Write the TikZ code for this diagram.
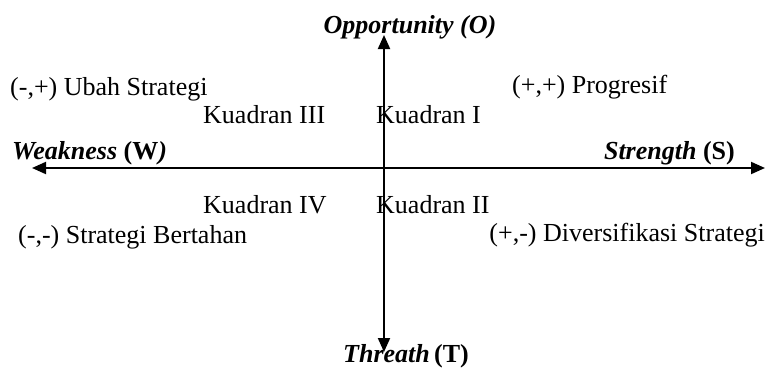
\documentclass[tikz,border=0pt]{standalone}
\usepackage{fontspec}
\setmainfont{Liberation Serif}
\usepackage{tikz}
\usetikzlibrary{arrows.meta, positioning}

\tikzset{
  axis/.style={line width=2pt, {Triangle[width=12pt,length=14pt]}-{Triangle[width=12pt,length=14pt]}},
  lbl/.style={inner sep=0pt, font=\fontsize{26}{30}\selectfont},
}

\begin{document}
\begin{tikzpicture}[x=1pt, y=-1pt]
        \useasboundingbox (0,0) rectangle (766,367);

        % Axes
        \coordinate (wEnd) at (32,168);
        \coordinate (sEnd) at (765,168);
        \coordinate (oEnd) at (384,35);
        \coordinate (tEnd) at (384,352);
        \draw[axis] (wEnd) -- (sEnd);
        \draw[axis] (oEnd) -- (tEnd);

        % Axis labels
        \node[lbl, anchor=base] (opp) at (410,33) {\textbf{\textit{Opportunity (O)}}};
        \node[lbl, anchor=base west] (weak) at (12,159) {\textbf{\textit{Weakness}} \textbf{(W\textit{)}}};
        \node[lbl, anchor=base east] (str) at (735,159) {\textbf{\textit{Strength}} \textbf{(S)}};
        \node[lbl, anchor=base] (thr) at (406,362) {\textbf{\textit{Threath}}\,\textbf{(T)}};

        % Strategies
        \node[lbl, anchor=base west] (ubah) at (10,95) {(-,+) Ubah Strategi};
        \node[lbl, anchor=base west] (prog) at (512,93) {(+,+) Progresif};
        \node[lbl, anchor=base west] (bertahan) at (18,243) {(-,-) Strategi Bertahan};
        \node[lbl, anchor=base east] (divers) at (765,241) {(+,-) Diversifikasi Strategi};

        % Quadrants
        \node[lbl, anchor=base west] (kIII) at (203,123) {Kuadran III};
        \node[lbl, anchor=base west] (kI) at (376,123) {Kuadran I};
        \node[lbl, anchor=base west] (kIV) at (203,213) {Kuadran IV};
        \node[lbl, anchor=base west] (kII) at (376,213) {Kuadran II};
\end{tikzpicture}
\end{document}
